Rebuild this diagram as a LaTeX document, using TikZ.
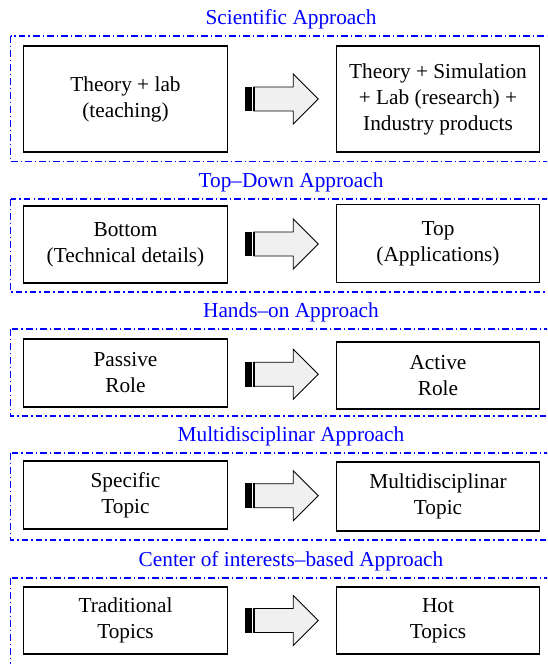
\documentclass[tikz,border=0pt]{standalone}
\usepackage{fontspec}
\setmainfont{Liberation Serif}
\usetikzlibrary{calc}

\begin{document}
\begin{tikzpicture}[
    x=1pt, y=-1pt, % pixel-like units, y axis pointing down
    every node/.style={font=\fontsize{21.3}{26}\selectfont},
    box/.style={draw, line width=1.4pt, align=center, inner sep=0pt, minimum width=203.5pt}, % Style for the boxes
    heading/.style={text=blue, inner sep=0pt}, % Style for the approach titles
    frame/.style={draw=blue, line width=1.3pt, dash pattern=on 6.5pt off 3pt on 1.5pt off 3pt}, % Dash-dot frames
    stripearrow/.pic={
        % shaft + head
        \draw[fill=gray!12, line width=0.9pt] (-28,-12) -- (11.5,-12) -- (11.5,-25) -- (36.5,0)
            -- (11.5,25) -- (11.5,12) -- (-28,12) -- cycle;
        % the two stripes at the tail
        \fill (-36.5,-12.4) rectangle (-30,12.4);
        \draw[line width=1.6pt] (-28,-12.4) -- (-28,12.4);
    }
]

    % Page size and clipping (frames run past the right and bottom edges)
    \useasboundingbox (0,0) rectangle (547,664);
    \clip (0,0) rectangle (547,664);

    % Scientific Approach
    \node[heading] (t1) at (291,19.5) {Scientific Approach};
    \draw[frame] (10.5,36) rectangle (571.5,161.5);
    \node[box, minimum height=106pt] (l1) at (125.5,99) {Theory + lab\\(teaching)};
    \node[box, minimum height=106pt] (r1) at (438,99) {Theory + Simulation\\+ Lab (research) +\\Industry products};
    \path ($(l1.east)!0.5!(r1.west)$) pic {stripearrow};

    % Top-Down Approach
    \node[heading] (t2) at (291,182.5) {Top–Down Approach};
    \draw[frame] (10.5,199) rectangle (571.5,292);
    \node[box, minimum height=77pt] (l2) at (125.5,244.5) {Bottom\\(Technical details)};
    \node[box, minimum height=78pt] (r2) at (438,243.5) {Top\\(Applications)};
    \path ($(l2.east)!0.5!(r2.west)$) pic {stripearrow};

    % Hands-on Approach
    \node[heading] (t3) at (291,312.5) {Hands–on Approach};
    \draw[frame] (10.5,329) rectangle (571.5,416);
    \node[box, minimum height=68pt] (l3) at (125.5,373) {Passive\\Role};
    \node[box, minimum height=67pt] (r3) at (438,375.5) {Active\\Role};
    \path ($(l3.east)!0.5!(r3.west)$) pic {stripearrow};

    % Multidisciplinar Approach
    \node[heading] (t4) at (291,436.5) {Multidisciplinar Approach};
    \draw[frame] (10.5,453) rectangle (571.5,540);
    \node[box, minimum height=68pt] (l4) at (125.5,495) {Specific\\Topic};
    \node[box, minimum height=69pt] (r4) at (438,496.5) {Multidisciplinar\\Topic};
    \path ($(l4.east)!0.5!(r4.west)$) pic {stripearrow};

    % Center of interests-based Approach
    \node[heading] (t5) at (291,561.5) {Center of interests–based Approach};
    \draw[frame] (10.5,578) rectangle (571.5,672);
    \node[box, minimum height=67pt] (l5) at (125.5,620.5) {Traditional\\Topics};
    \node[box, minimum height=67pt] (r5) at (438,620.5) {Hot\\Topics};
    \path ($(l5.east)!0.5!(r5.west)$) pic {stripearrow};

\end{tikzpicture}
\end{document}
